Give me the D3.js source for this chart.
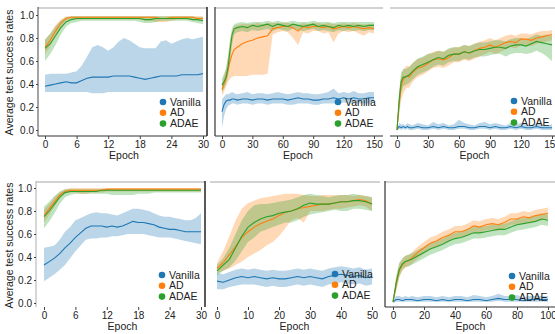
<!DOCTYPE html>
<html>
<head>
<meta charset="utf-8">
<script src="https://cdn.jsdelivr.net/npm/d3@7"></script>
<style>
  body { margin: 0; background: #fff; }
  svg { display: block; font-family: "Liberation Sans", Arial, sans-serif; }
</style>
</head>
<body>
<div id="chart"></div>
<script>
const seriesNames = ['Vanilla', 'AD', 'ADAE'];
const colors = ['#1f77b4', '#ff7f0e', '#2ca02c'];
const yTicks = [0, 0.2, 0.4, 0.6, 0.8, 1.0];

// panel 1 (top left)
const p1Epochs = d3.range(0, 31);
const p1VanMean = [0.38,0.39,0.40,0.41,0.42,0.41,0.41,0.43,0.45,0.46,0.46,0.46,0.46,0.47,0.47,0.47,0.47,0.46,0.45,0.44,0.45,0.46,0.47,0.47,0.47,0.47,0.48,0.48,0.48,0.48,0.49];
const p1VanLo = [0.33,0.33,0.33,0.33,0.33,0.33,0.33,0.33,0.33,0.32,0.32,0.32,0.33,0.33,0.33,0.33,0.33,0.33,0.33,0.33,0.33,0.33,0.33,0.33,0.33,0.33,0.33,0.33,0.33,0.33,0.33];
const p1VanHi = [0.48,0.49,0.49,0.49,0.49,0.50,0.51,0.56,0.64,0.72,0.74,0.72,0.69,0.72,0.77,0.80,0.78,0.75,0.72,0.71,0.71,0.71,0.77,0.78,0.75,0.77,0.79,0.80,0.79,0.80,0.81];
const p1AdMean = [0.72,0.78,0.86,0.93,0.97,0.98,0.98,0.98,0.98,0.98,0.98,0.98,0.98,0.98,0.98,0.98,0.98,0.98,0.98,0.98,0.98,0.98,0.97,0.97,0.98,0.98,0.98,0.98,0.98,0.97,0.97];
const p1AdLo = [0.66,0.73,0.82,0.90,0.95,0.96,0.96,0.96,0.96,0.96,0.96,0.96,0.96,0.96,0.96,0.96,0.96,0.96,0.96,0.95,0.95,0.94,0.94,0.94,0.95,0.96,0.96,0.96,0.96,0.95,0.95];
const p1AdHi = [0.78,0.84,0.91,0.96,0.99,0.99,0.99,0.99,0.99,0.99,0.99,0.99,0.99,0.99,0.99,0.99,0.99,0.99,0.99,0.99,0.99,0.99,0.99,0.99,0.99,0.99,0.99,0.99,0.99,0.99,0.99];
const p1AdaeMean = [0.71,0.75,0.82,0.89,0.94,0.96,0.97,0.97,0.97,0.97,0.97,0.97,0.97,0.97,0.97,0.97,0.97,0.97,0.97,0.96,0.96,0.97,0.97,0.97,0.97,0.97,0.97,0.97,0.96,0.96,0.95];
const p1AdaeLo = [0.60,0.66,0.74,0.83,0.90,0.93,0.94,0.95,0.95,0.95,0.95,0.95,0.95,0.95,0.95,0.95,0.95,0.95,0.94,0.93,0.93,0.94,0.95,0.95,0.95,0.95,0.95,0.95,0.94,0.93,0.92];
const p1AdaeHi = [0.79,0.84,0.90,0.95,0.98,0.99,0.99,0.99,0.99,0.99,0.99,0.99,0.99,0.99,0.99,0.99,0.99,0.99,0.99,0.99,0.99,0.99,0.99,0.99,0.99,0.99,0.99,0.99,0.99,0.98,0.98];

// panel 2 (top middle)
const p2Epochs = [0,2,4,6,8,10,12,15,20,25,30,35,40,45,50,55,60,65,70,75,80,85,90,95,100,105,110,115,120,125,130,135,140,145,150];
const p2VanMean = [0.16,0.22,0.25,0.26,0.26,0.27,0.27,0.26,0.27,0.27,0.26,0.27,0.27,0.26,0.27,0.27,0.27,0.26,0.27,0.28,0.27,0.27,0.26,0.26,0.27,0.27,0.28,0.27,0.28,0.27,0.28,0.27,0.27,0.28,0.28];
const p2VanLo = [0.02,0.12,0.18,0.21,0.22,0.23,0.23,0.22,0.23,0.23,0.22,0.23,0.23,0.22,0.23,0.23,0.23,0.22,0.22,0.23,0.23,0.23,0.22,0.22,0.23,0.23,0.23,0.23,0.24,0.23,0.23,0.23,0.23,0.23,0.24];
const p2VanHi = [0.27,0.29,0.31,0.31,0.32,0.33,0.32,0.31,0.32,0.33,0.31,0.32,0.32,0.31,0.32,0.33,0.32,0.31,0.32,0.33,0.32,0.32,0.31,0.31,0.32,0.33,0.36,0.32,0.33,0.32,0.34,0.32,0.32,0.33,0.33];
const p2AdMean = [0.35,0.40,0.45,0.52,0.60,0.66,0.70,0.72,0.75,0.77,0.78,0.80,0.81,0.82,0.88,0.89,0.90,0.90,0.89,0.86,0.90,0.89,0.90,0.90,0.89,0.90,0.88,0.89,0.90,0.89,0.90,0.89,0.88,0.89,0.88];
const p2AdLo = [0.30,0.33,0.38,0.42,0.45,0.46,0.47,0.47,0.47,0.47,0.48,0.48,0.48,0.49,0.83,0.85,0.86,0.85,0.80,0.74,0.85,0.84,0.86,0.86,0.84,0.85,0.76,0.84,0.86,0.85,0.86,0.84,0.82,0.85,0.84];
const p2AdHi = [0.40,0.47,0.53,0.65,0.78,0.86,0.90,0.91,0.92,0.92,0.92,0.93,0.92,0.93,0.93,0.93,0.93,0.93,0.92,0.91,0.93,0.92,0.93,0.93,0.92,0.93,0.92,0.92,0.93,0.92,0.93,0.92,0.92,0.92,0.92];
const p2AdaeMean = [0.39,0.42,0.46,0.55,0.70,0.83,0.88,0.89,0.90,0.89,0.91,0.90,0.91,0.92,0.90,0.92,0.91,0.90,0.92,0.91,0.90,0.91,0.92,0.90,0.91,0.90,0.89,0.91,0.90,0.91,0.90,0.91,0.90,0.91,0.91];
const p2AdaeLo = [0.33,0.36,0.40,0.47,0.60,0.75,0.83,0.85,0.86,0.85,0.87,0.86,0.87,0.88,0.86,0.88,0.87,0.86,0.88,0.87,0.86,0.87,0.88,0.86,0.87,0.86,0.85,0.87,0.86,0.87,0.86,0.87,0.86,0.87,0.87];
const p2AdaeHi = [0.45,0.49,0.54,0.64,0.79,0.89,0.92,0.93,0.94,0.93,0.94,0.94,0.94,0.95,0.94,0.95,0.94,0.94,0.95,0.94,0.94,0.94,0.95,0.94,0.94,0.94,0.93,0.94,0.94,0.94,0.94,0.94,0.94,0.94,0.94];

// panel 3 (top right)
const p3Epochs = p2Epochs;
const p3VanMean = [0.00,0.03,0.02,0.03,0.02,0.03,0.02,0.02,0.03,0.02,0.02,0.03,0.02,0.03,0.02,0.02,0.03,0.03,0.02,0.02,0.03,0.03,0.02,0.03,0.02,0.02,0.03,0.02,0.03,0.02,0.02,0.03,0.02,0.02,0.02];
const p3VanLo = [0.00,0.01,0.00,0.01,0.00,0.01,0.00,0.00,0.01,0.00,0.00,0.01,0.00,0.01,0.00,0.00,0.01,0.01,0.00,0.00,0.01,0.01,0.00,0.01,0.00,0.00,0.01,0.00,0.01,0.00,0.00,0.01,0.00,0.00,0.00];
const p3VanHi = [0.00,0.06,0.05,0.05,0.04,0.06,0.05,0.04,0.06,0.05,0.04,0.07,0.05,0.06,0.04,0.05,0.09,0.06,0.05,0.04,0.06,0.07,0.05,0.06,0.05,0.04,0.06,0.05,0.06,0.05,0.04,0.06,0.05,0.04,0.05];
const p3AdMean = [0.00,0.22,0.38,0.44,0.46,0.47,0.46,0.50,0.54,0.55,0.58,0.61,0.62,0.61,0.63,0.66,0.66,0.68,0.67,0.69,0.71,0.72,0.74,0.72,0.74,0.76,0.77,0.76,0.79,0.79,0.78,0.80,0.81,0.82,0.83];
const p3AdLo = [0.00,0.12,0.26,0.32,0.35,0.37,0.37,0.42,0.46,0.48,0.51,0.54,0.55,0.54,0.56,0.59,0.59,0.61,0.60,0.62,0.64,0.66,0.68,0.66,0.68,0.70,0.72,0.71,0.74,0.74,0.73,0.75,0.76,0.77,0.78];
const p3AdHi = [0.00,0.32,0.48,0.52,0.55,0.56,0.55,0.58,0.62,0.63,0.66,0.68,0.69,0.68,0.70,0.72,0.72,0.74,0.73,0.75,0.77,0.78,0.80,0.78,0.80,0.82,0.83,0.82,0.84,0.84,0.83,0.85,0.86,0.86,0.87];
const p3AdaeMean = [0.00,0.25,0.42,0.46,0.46,0.47,0.48,0.51,0.55,0.57,0.59,0.61,0.63,0.62,0.65,0.66,0.66,0.68,0.67,0.69,0.70,0.70,0.71,0.72,0.72,0.71,0.73,0.74,0.74,0.73,0.75,0.77,0.76,0.75,0.74];
const p3AdaeLo = [0.00,0.15,0.32,0.38,0.39,0.40,0.41,0.44,0.48,0.50,0.52,0.55,0.57,0.56,0.59,0.60,0.60,0.62,0.61,0.63,0.64,0.64,0.65,0.66,0.66,0.64,0.66,0.67,0.67,0.66,0.67,0.69,0.67,0.64,0.60];
const p3AdaeHi = [0.00,0.33,0.50,0.53,0.53,0.54,0.55,0.58,0.62,0.64,0.66,0.67,0.69,0.68,0.71,0.72,0.72,0.74,0.73,0.75,0.76,0.76,0.77,0.78,0.78,0.77,0.79,0.80,0.80,0.79,0.81,0.83,0.82,0.83,0.82];

// panel 4 (bottom left)
const p4Epochs = d3.range(0, 31);
const p4VanMean = [0.33,0.36,0.39,0.43,0.48,0.52,0.57,0.61,0.65,0.67,0.67,0.67,0.66,0.67,0.66,0.67,0.69,0.71,0.70,0.70,0.69,0.68,0.66,0.65,0.64,0.64,0.63,0.62,0.62,0.62,0.62];
const p4VanLo = [0.19,0.22,0.25,0.29,0.33,0.39,0.45,0.50,0.55,0.56,0.56,0.57,0.57,0.58,0.58,0.59,0.60,0.60,0.60,0.60,0.59,0.58,0.57,0.57,0.57,0.56,0.55,0.54,0.53,0.52,0.51];
const p4VanHi = [0.48,0.49,0.50,0.55,0.62,0.66,0.72,0.74,0.76,0.78,0.79,0.78,0.78,0.77,0.76,0.78,0.80,0.82,0.82,0.81,0.80,0.78,0.76,0.75,0.75,0.74,0.73,0.72,0.72,0.74,0.78];
const p4AdMean = [0.76,0.82,0.88,0.94,0.97,0.98,0.98,0.98,0.98,0.98,0.98,0.98,0.99,0.99,0.99,0.99,0.99,0.99,0.99,0.99,0.99,0.99,0.99,0.99,0.99,0.99,0.99,0.99,0.99,0.99,0.99];
const p4AdLo = [0.70,0.77,0.84,0.91,0.95,0.96,0.96,0.95,0.95,0.96,0.96,0.96,0.97,0.97,0.97,0.97,0.97,0.97,0.97,0.97,0.97,0.97,0.97,0.97,0.97,0.97,0.97,0.97,0.97,0.97,0.97];
const p4AdHi = [0.81,0.86,0.92,0.96,0.99,1.00,1.00,1.00,1.00,1.00,1.00,1.00,1.00,1.00,1.00,1.00,1.00,1.00,1.00,1.00,1.00,1.00,1.00,1.00,1.00,1.00,1.00,1.00,1.00,1.00,1.00];
const p4AdaeMean = [0.75,0.80,0.86,0.92,0.96,0.97,0.97,0.97,0.97,0.97,0.97,0.98,0.98,0.98,0.98,0.98,0.98,0.98,0.98,0.98,0.98,0.98,0.98,0.98,0.98,0.98,0.98,0.98,0.98,0.98,0.98];
const p4AdaeLo = [0.65,0.71,0.78,0.86,0.92,0.94,0.95,0.95,0.95,0.95,0.95,0.95,0.95,0.94,0.94,0.94,0.94,0.94,0.95,0.95,0.95,0.96,0.96,0.96,0.96,0.96,0.96,0.96,0.96,0.96,0.96];
const p4AdaeHi = [0.84,0.88,0.93,0.97,0.99,0.99,0.99,0.99,0.99,0.99,0.99,0.99,0.99,0.99,0.99,0.99,0.99,0.99,0.99,0.99,0.99,0.99,0.99,0.99,0.99,0.99,0.99,0.99,0.99,0.99,0.99];

// panel 5 (bottom middle)
const p5Epochs = d3.range(0, 51, 2);
const p5VanMean = [0.19,0.18,0.20,0.22,0.23,0.22,0.23,0.22,0.21,0.22,0.21,0.21,0.22,0.23,0.22,0.23,0.22,0.21,0.23,0.24,0.25,0.24,0.23,0.24,0.22,0.23];
const p5VanLo = [0.12,0.12,0.14,0.15,0.16,0.16,0.16,0.15,0.14,0.15,0.14,0.14,0.15,0.16,0.15,0.16,0.15,0.14,0.16,0.17,0.18,0.17,0.16,0.17,0.15,0.16];
const p5VanHi = [0.26,0.25,0.27,0.29,0.30,0.29,0.30,0.29,0.28,0.29,0.28,0.28,0.29,0.30,0.29,0.30,0.29,0.28,0.30,0.31,0.32,0.31,0.30,0.31,0.29,0.30];
const p5AdMean = [0.30,0.35,0.42,0.49,0.57,0.62,0.66,0.69,0.71,0.73,0.76,0.79,0.80,0.82,0.83,0.84,0.85,0.86,0.86,0.87,0.88,0.88,0.89,0.90,0.89,0.86];
const p5AdLo = [0.26,0.28,0.30,0.33,0.36,0.40,0.43,0.46,0.50,0.53,0.58,0.65,0.72,0.74,0.70,0.80,0.80,0.80,0.81,0.82,0.82,0.83,0.84,0.85,0.84,0.80];
const p5AdHi = [0.35,0.45,0.58,0.72,0.82,0.87,0.89,0.91,0.92,0.93,0.94,0.95,0.95,0.95,0.94,0.93,0.93,0.94,0.94,0.94,0.94,0.94,0.93,0.94,0.93,0.92];
const p5AdaeMean = [0.28,0.33,0.38,0.48,0.58,0.66,0.70,0.73,0.75,0.76,0.78,0.79,0.80,0.82,0.85,0.87,0.86,0.86,0.86,0.87,0.88,0.88,0.89,0.89,0.88,0.86];
const p5AdaeLo = [0.24,0.28,0.31,0.37,0.45,0.53,0.57,0.62,0.64,0.66,0.68,0.70,0.70,0.72,0.75,0.77,0.78,0.79,0.80,0.81,0.80,0.80,0.82,0.82,0.81,0.80];
const p5AdaeHi = [0.33,0.39,0.48,0.60,0.72,0.80,0.85,0.86,0.86,0.87,0.88,0.89,0.90,0.92,0.94,0.95,0.94,0.93,0.92,0.93,0.94,0.94,0.95,0.94,0.93,0.92];

// panel 6 (bottom right)
const p6Epochs = [0,2,4,6,8,10,12,16,20,24,28,32,36,40,44,48,52,56,60,64,68,72,76,80,84,88,92,96,100];
const p6VanMean = [0.01,0.03,0.03,0.02,0.03,0.03,0.03,0.02,0.03,0.03,0.02,0.03,0.02,0.03,0.03,0.02,0.03,0.03,0.02,0.03,0.04,0.03,0.03,0.03,0.02,0.03,0.03,0.03,0.03];
const p6VanLo = [0.00,0.01,0.01,0.01,0.01,0.01,0.01,0.01,0.01,0.01,0.01,0.01,0.01,0.01,0.01,0.01,0.01,0.01,0.01,0.01,0.02,0.01,0.01,0.01,0.01,0.01,0.01,0.01,0.01];
const p6VanHi = [0.02,0.06,0.06,0.05,0.06,0.05,0.06,0.05,0.06,0.06,0.05,0.06,0.05,0.06,0.06,0.05,0.07,0.06,0.05,0.06,0.08,0.06,0.06,0.07,0.05,0.06,0.06,0.06,0.06];
const p6AdMean = [0.01,0.16,0.28,0.33,0.36,0.37,0.39,0.44,0.48,0.52,0.54,0.57,0.59,0.62,0.62,0.64,0.67,0.66,0.68,0.69,0.68,0.70,0.73,0.73,0.75,0.74,0.76,0.77,0.78];
const p6AdLo = [0.00,0.10,0.22,0.28,0.31,0.32,0.34,0.39,0.43,0.47,0.49,0.52,0.54,0.57,0.57,0.59,0.62,0.61,0.63,0.64,0.63,0.65,0.68,0.68,0.70,0.69,0.71,0.72,0.73];
const p6AdHi = [0.02,0.22,0.34,0.38,0.41,0.42,0.44,0.49,0.53,0.57,0.59,0.62,0.64,0.67,0.67,0.69,0.72,0.71,0.73,0.74,0.73,0.75,0.78,0.78,0.80,0.79,0.81,0.82,0.83];
const p6AdaeMean = [0.01,0.17,0.29,0.34,0.36,0.37,0.38,0.41,0.44,0.47,0.49,0.51,0.54,0.56,0.57,0.59,0.61,0.61,0.62,0.63,0.64,0.64,0.66,0.68,0.69,0.70,0.71,0.73,0.72];
const p6AdaeLo = [0.00,0.11,0.23,0.29,0.31,0.32,0.33,0.36,0.39,0.42,0.44,0.46,0.49,0.51,0.52,0.54,0.56,0.56,0.57,0.58,0.59,0.59,0.61,0.63,0.64,0.65,0.66,0.68,0.67];
const p6AdaeHi = [0.02,0.23,0.35,0.39,0.41,0.42,0.43,0.46,0.49,0.52,0.54,0.56,0.59,0.61,0.62,0.64,0.66,0.66,0.67,0.68,0.69,0.69,0.71,0.73,0.74,0.75,0.76,0.78,0.77];

const width = 555, height = 334;
const LIGHT = '#d2d2d2', DARK = '#333';

const panels = [
  { epochs: p1Epochs, xMax: 30, xTicks: [0,6,12,18,24,30], xr: [45, 203], yr: [130, 15],
    series: [[p1VanMean,p1VanLo,p1VanHi],[p1AdMean,p1AdLo,p1AdHi],[p1AdaeMean,p1AdaeLo,p1AdaeHi]],
    frame: { l: 38, r: 207, t: 8, b: 136 }, lines: { left: '#666', bottom: DARK, right: '#222' },
    yAxis: true, legend: [163, 102] },
  { epochs: p2Epochs, xMax: 150, xTicks: [0,30,60,90,120,150], xr: [222, 374], yr: [130, 15],
    series: [[p2VanMean,p2VanLo,p2VanHi],[p2AdMean,p2AdLo,p2AdHi],[p2AdaeMean,p2AdaeLo,p2AdaeHi]],
    frame: { l: 215, r: 383, t: 8, b: 136 }, lines: { left: DARK, bottom: DARK },
    yAxis: false, legend: [338, 102] },
  { epochs: p3Epochs, xMax: 150, xTicks: [0,30,60,90,120,150], xr: [397, 552], yr: [130, 15],
    series: [[p3VanMean,p3VanLo,p3VanHi],[p3AdMean,p3AdLo,p3AdHi],[p3AdaeMean,p3AdaeLo,p3AdaeHi]],
    frame: { l: 390, r: 560, t: 8, b: 136 }, lines: { bottom: DARK },
    yAxis: false, legend: [514, 101] },
  { epochs: p4Epochs, xMax: 30, xTicks: [0,6,12,18,24,30], xr: [44, 201], yr: [303, 188],
    series: [[p4VanMean,p4VanLo,p4VanHi],[p4AdMean,p4AdLo,p4AdHi],[p4AdaeMean,p4AdaeLo,p4AdaeHi]],
    frame: { l: 36, r: 205, t: 182, b: 307 }, lines: { left: '#bbb', right: '#222' },
    yAxis: true, legend: [162, 275] },
  { epochs: p5Epochs, xMax: 50, xTicks: [0,10,20,30,40,50], xr: [217, 372], yr: [303, 188],
    series: [[p5VanMean,p5VanLo,p5VanHi],[p5AdMean,p5AdLo,p5AdHi],[p5AdaeMean,p5AdaeLo,p5AdaeHi]],
    frame: { l: 210, r: 380, t: 182, b: 307 }, lines: {},
    yAxis: false, legend: [335, 274] },
  { epochs: p6Epochs, xMax: 100, xTicks: [0,20,40,60,80,100], xr: [393, 548], yr: [303, 188],
    series: [[p6VanMean,p6VanLo,p6VanHi],[p6AdMean,p6AdLo,p6AdHi],[p6AdaeMean,p6AdaeLo,p6AdaeHi]],
    frame: { l: 385, r: 560, t: 182, b: 307 }, lines: { left: DARK, bottom: DARK },
    yAxis: false, legend: [512, 276] }
];

const svg = d3.select('#chart').append('svg').attr('width', width).attr('height', height);

panels.forEach(p => {
  const g = svg.append('g');
  const f = p.frame;
  const x = d3.scaleLinear().domain([0, p.xMax]).range(p.xr);
  const y = d3.scaleLinear().domain([0, 1]).range(p.yr);

  // bands first, then mean lines on top
  const area = d3.area().x(d => x(d.e)).y0(d => y(d.lo)).y1(d => y(d.hi));
  const line = d3.line().x(d => x(d.e)).y(d => y(d.m));
  const rows = p.series.map(([m, lo, hi]) => p.epochs.map((e, i) => ({ e, m: m[i], lo: lo[i], hi: hi[i] })));

  rows.forEach((r, i) => {
    g.append('path').datum(r).attr('fill', colors[i]).attr('fill-opacity', 0.3).attr('d', area);
  });
  rows.forEach((r, i) => {
    g.append('path').datum(r).attr('fill', 'none').attr('stroke', colors[i]).attr('stroke-width', 1.1).attr('d', line);
  });

  // frame pieces
  g.append('line').attr('x1', f.l).attr('x2', f.r).attr('y1', f.t).attr('y2', f.t)
    .attr('stroke', LIGHT).attr('stroke-width', 2);
  if (p.lines.left) g.append('line').attr('x1', f.l).attr('x2', f.l).attr('y1', f.t - 1).attr('y2', f.b)
    .attr('stroke', p.lines.left).attr('stroke-width', 1.2);
  if (p.lines.right) g.append('line').attr('x1', f.r).attr('x2', f.r).attr('y1', f.t - 1).attr('y2', f.b)
    .attr('stroke', p.lines.right).attr('stroke-width', 1.5);
  if (p.lines.bottom) g.append('line').attr('x1', f.l).attr('x2', f.r).attr('y1', f.b).attr('y2', f.b)
    .attr('stroke', p.lines.bottom).attr('stroke-width', 1.2);

  const xa = g.append('g').attr('transform', `translate(0,${f.b})`)
    .call(d3.axisBottom(x).tickValues(p.xTicks).tickSize(3).tickPadding(2));
  xa.select('.domain').remove();
  xa.selectAll('line').attr('stroke', '#444');
  xa.selectAll('text').attr('fill', '#222').style('font-size', '10px');

  g.append('text').attr('x', (p.xr[0] + p.xr[1]) / 2).attr('y', f.b + 23)
    .attr('text-anchor', 'middle').attr('fill', '#222').style('font-size', '10.5px').text('Epoch');

  if (p.yAxis) {
    const ya = g.append('g').attr('transform', `translate(${f.l},0)`)
      .call(d3.axisLeft(y).tickValues(yTicks).tickFormat(d3.format('.1f')).tickSize(2).tickPadding(2));
    ya.select('.domain').remove();
    ya.selectAll('line').attr('stroke', '#444');
    ya.selectAll('text').attr('fill', '#222').style('font-size', '10px');
    g.append('text').attr('transform', `translate(13,${(p.yr[0] + p.yr[1]) / 2}) rotate(-90)`)
      .attr('text-anchor', 'middle').attr('fill', '#222').style('font-size', '10.5px')
      .text('Average test success rates');
  }

  // legend
  const lg = g.append('g').attr('transform', `translate(${p.legend[0]},${p.legend[1]})`);
  seriesNames.forEach((name, i) => {
    lg.append('circle').attr('cx', 0).attr('cy', i * 10.8).attr('r', 3.3).attr('fill', colors[i]);
    lg.append('text').attr('x', 7).attr('y', i * 10.8).attr('dy', '0.35em')
      .attr('fill', '#222').style('font-size', '10.5px').text(name);
  });
});
</script>
</body>
</html>
